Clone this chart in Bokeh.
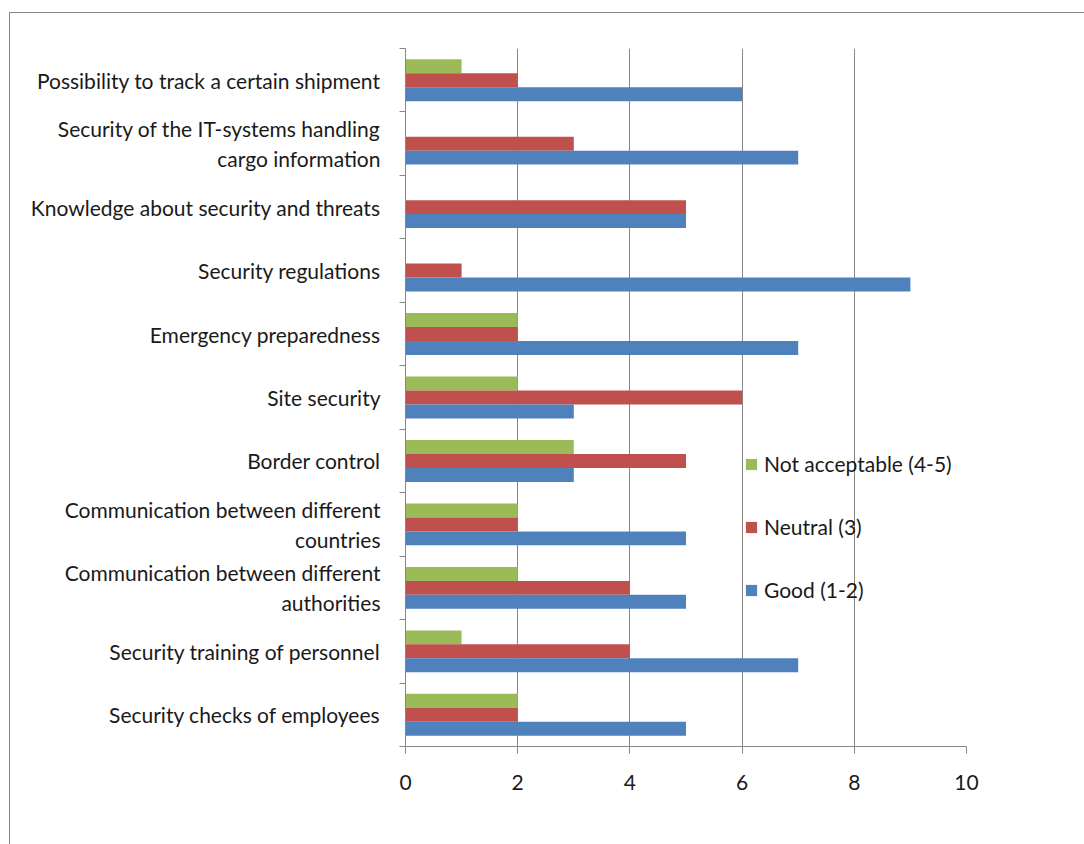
from bokeh.plotting import figure
from bokeh.models import Range1d, FixedTicker, Legend, LegendItem, ColumnDataSource
from bokeh.embed import file_html
from bokeh.resources import INLINE

# Survey aspects, listed top to bottom as drawn
categories = [
    "Possibility to track a certain shipment",
    "Security of the IT-systems handling\ncargo information",
    "Knowledge about security and threats",
    "Security regulations",
    "Emergency preparedness",
    "Site security",
    "Border control",
    "Communication between different\ncountries",
    "Communication between different\nauthorities",
    "Security training of personnel",
    "Security checks of employees",
]
good = [6, 7, 5, 9, 7, 3, 3, 5, 5, 7, 5]
neutral = [2, 3, 5, 1, 2, 6, 5, 2, 4, 4, 2]
not_acceptable = [1, 0, 0, 0, 2, 2, 3, 2, 2, 1, 2]
x_ticks = [0, 2, 4, 6, 8, 10]

series = [
    ("Not acceptable (4-5)", not_acceptable, "#9BBB59"),
    ("Neutral (3)", neutral, "#C0504D"),
    ("Good (1-2)", good, "#4F81BD"),
]

FONT = "Lato"
FONT_SIZE = "21px"
GRAY = "#868686"
TEXT = "#1a1a1a"
n = len(categories)
centers = [n - 1 - i for i in range(n)]   # top category gets the largest y
bar_h = 0.22

# the figure sits inside a thin outer chart border drawn with CSS
p = figure(width=1074, height=831, margin=(13, 0, 0, 10),
           output_backend="svg", toolbar_location=None,
           x_range=Range1d(0, 10), y_range=Range1d(-0.5, n - 0.5),
           min_border_left=395, min_border_right=118,
           min_border_top=35, min_border_bottom=98,
           styles={"outline": "1px solid #868686"})
p.outline_line_color = None
p.background_fill_color = "white"
p.border_fill_color = "white"

# vertical gridlines only
p.ygrid.grid_line_color = None
p.xgrid.ticker = FixedTicker(ticks=x_ticks)
p.xgrid.grid_line_color = GRAY
p.xgrid.grid_line_width = 1

renderers = []
for k, (name, vals, color) in enumerate(series):
    offset = (1 - k) * bar_h
    src = ColumnDataSource(dict(y=[c + offset for c in centers], right=vals,
                                left=[0] * n))
    r = p.hbar(y="y", left="left", right="right", height=bar_h, source=src,
               fill_color=color, line_color=None)
    renderers.append((name, r))

# x axis
xa = p.xaxis[0]
xa.ticker = FixedTicker(ticks=x_ticks)
xa.axis_line_color = GRAY
xa.major_tick_line_color = GRAY
xa.major_tick_out = 7
xa.major_tick_in = 0
xa.minor_tick_line_color = None
xa.major_label_text_font = FONT
xa.major_label_text_font_size = FONT_SIZE
xa.major_label_text_color = TEXT
xa.major_label_standoff = 21

# y axis: labels at category centres, tick marks at category boundaries
ya = p.yaxis[0]
ya.ticker = FixedTicker(ticks=centers,
                        minor_ticks=[c - 0.5 for c in range(n + 1)])
ya.major_label_overrides = {c: lab for c, lab in zip(centers, categories)}
ya.axis_line_color = GRAY
ya.major_tick_out = 0
ya.major_tick_in = 0
ya.major_tick_line_color = None
ya.minor_tick_line_color = GRAY
ya.minor_tick_out = 6
ya.minor_tick_in = 0
ya.major_label_text_font = FONT
ya.major_label_text_font_size = FONT_SIZE
ya.major_label_text_color = TEXT
ya.major_label_text_line_height = 1.2
ya.major_label_standoff = 19

legend = Legend(items=[LegendItem(label=name, renderers=[r]) for name, r in renderers],
                location=(339, 144), orientation="vertical",
                background_fill_alpha=0, border_line_color=None,
                glyph_width=14, glyph_height=14, label_standoff=6,
                spacing=38, padding=0, margin=0,
                label_text_font=FONT, label_text_font_size=FONT_SIZE,
                label_text_color=TEXT)
p.add_layout(legend)

open("out.html", "w").write(file_html(p, INLINE))
